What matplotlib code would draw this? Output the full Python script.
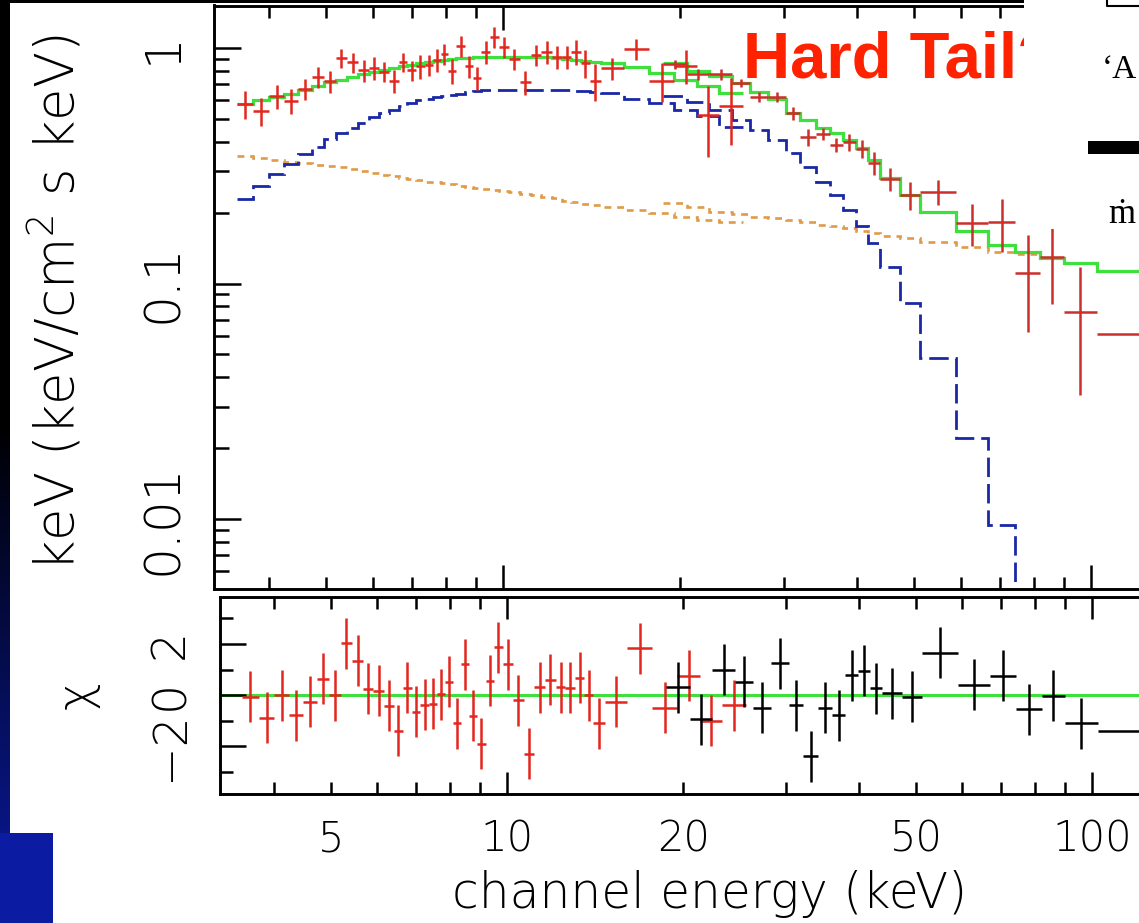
import matplotlib
matplotlib.use("Agg")
import matplotlib.pyplot as plt
import numpy as np
from matplotlib.ticker import LogLocator, FixedLocator, MultipleLocator, NullFormatter
from matplotlib.patches import Rectangle
from matplotlib.lines import Line2D
from matplotlib.transforms import blended_transform_factory as blend

# ---------------- data ----------------
# instrument A (red): bin edges in keV
a_edges = [3.523, 3.762, 4.005, 4.244, 4.479, 4.727, 4.970, 5.194, 5.434, 5.679,
           5.911, 6.154, 6.400, 6.643, 6.875, 7.108, 7.356, 7.591, 7.832, 8.074,
           8.331, 8.623, 8.898, 9.191, 9.512, 9.835, 10.23, 10.68, 11.14, 11.62,
           12.11, 12.59, 13.07, 13.55, 14.04, 14.69, 16.04, 17.73, 19.56, 21.37,
           23.29, 25.64]
a_flux = [0.578, 0.540, 0.626, 0.596, 0.670, 0.753, 0.724, 0.907, 0.872, 0.806,
          0.822, 0.791, 0.724, 0.872, 0.806, 0.839, 0.847, 0.889, 0.943, 0.799,
          1.020, 0.839, 0.746, 0.962, 1.114, 1.010, 0.898, 0.717, 0.934, 0.962,
          0.916, 0.916, 0.962, 0.864, 0.724, 0.822, 0.990, 0.724, 0.839, 0.519,
          0.567]
a_err = [0.078, 0.072, 0.073, 0.073, 0.070, 0.077, 0.077, 0.084, 0.085, 0.086,
         0.091, 0.077, 0.081, 0.081, 0.079, 0.098, 0.090, 0.100, 0.097, 0.096,
         0.104, 0.090, 0.084, 0.104, 0.114, 0.099, 0.092, 0.084, 0.096, 0.107,
         0.104, 0.100, 0.117, 0.118, 0.128, 0.089, 0.100, 0.137, 0.139, 0.173,
         0.180]
a_model = [0.5785, 0.6015, 0.6194, 0.6378, 0.6633, 0.6897, 0.7172, 0.7314, 0.7532, 0.7754,
           0.7908, 0.8064, 0.8224, 0.8386, 0.8468, 0.8636, 0.8720, 0.8806, 0.8890, 0.8980,
           0.9025, 0.9069, 0.9115, 0.9158, 0.9158, 0.9203, 0.9203, 0.9158, 0.9158, 0.9115,
           0.9069, 0.8980, 0.8890, 0.8806, 0.8720, 0.8636, 0.8304, 0.7831, 0.7314, 0.6897,
           0.6441]
a_comp = [0.2285, 0.2594, 0.2917, 0.3217, 0.3548, 0.3799, 0.4107, 0.4355, 0.4574, 0.4804,
          0.5093, 0.5297, 0.5453, 0.5672, 0.5842, 0.6015, 0.6071, 0.6194, 0.6255, 0.6318,
          0.6378, 0.6506, 0.6569, 0.6601, 0.6633, 0.6633, 0.6633, 0.6633, 0.6633, 0.6633,
          0.6633, 0.6601, 0.6569, 0.6537, 0.6506, 0.6441, 0.6071, 0.5842, 0.5453, 0.5143,
          0.4619]
a_pl = [0.3478, 0.3428, 0.3361, 0.3280, 0.3248, 0.3185, 0.3155, 0.3124, 0.3064, 0.3004,
        0.2946, 0.2888, 0.2847, 0.2805, 0.2778, 0.2738, 0.2711, 0.2685, 0.2659, 0.2633,
        0.2594, 0.2569, 0.2544, 0.2519, 0.2495, 0.2459, 0.2435, 0.2399, 0.2375, 0.2341,
        0.2296, 0.2251, 0.2219, 0.2186, 0.2155, 0.2113, 0.2052, 0.1993, 0.1916, 0.1861,
        0.1824]
a_chi = [-0.07, -0.9, 0.0, -0.8, -0.27, 0.63, 0.0, 2.03, 1.35, 0.24,
         0.17, -0.43, -1.4, 0.29, -0.65, -0.39, -0.34, 0.03, 0.52, -1.1,
         1.2, -0.82, -1.92, 0.55, 1.88, 1.2, -0.2, -2.3, 0.3, 0.59,
         0.3, 0.28, 0.67, 0.0, -1.1, -0.27, 1.84, -0.5, 0.75, -1.0,
         -0.4]

# instrument B (black residuals): bin edges in keV
b_edges = [18.73, 20.58, 22.43, 24.56, 26.35, 28.28, 30.29, 32.06, 34.07, 35.93,
           37.88, 39.78, 41.78, 43.71, 47.36, 51.12, 59.02, 66.89, 74.22, 82.03,
           89.80, 102.4, 145.7]
b_flux = [0.855, 0.775, 0.775, 0.710, 0.619, 0.619, 0.530, 0.419, 0.431, 0.387,
          0.399, 0.373, 0.325, 0.278, 0.238, 0.245, 0.181, 0.182, 0.111, 0.130,
          0.0757, 0.061]
b_err = [0.038, 0.042, 0.042, 0.028, 0.030, 0.030, 0.034, 0.035, 0.025, 0.026,
         0.033, 0.033, 0.035, 0.030, 0.032, 0.030, 0.037, 0.046, 0.049, 0.048,
         0.042, 0.040]
b_model = [0.8636, 0.7985, 0.7606, 0.7102, 0.6506, 0.6071, 0.5297, 0.4946, 0.4574, 0.4355,
           0.4067, 0.3761, 0.3345, 0.2805, 0.2375, 0.2010, 0.1671, 0.1457, 0.1361, 0.1283,
           0.1222, 0.1130]
b_comp = [0.6255, 0.5898, 0.5453, 0.4946, 0.4485, 0.4067, 0.3581, 0.3124, 0.2698, 0.2375,
          0.2052, 0.1754, 0.1486, 0.1175, 0.0826, 0.0483, 0.0221, 0.00943, 0.00278, 0.00064,
          0.000148, 0.000034]
b_pl = [0.2197, 0.2113, 0.2010, 0.1973, 0.1916, 0.1897, 0.1861, 0.1824, 0.1771, 0.1754,
        0.1720, 0.1671, 0.1638, 0.1591, 0.1560, 0.1500, 0.1429, 0.1361, 0.1335, 0.1283,
        0.1222, 0.1130]
b_chi = [0.3, -0.95, 1.0, 0.52, -0.5, 1.25, -0.4, -2.4, -0.5, -0.8,
         0.78, 0.95, 0.27, 0.07, -0.07, 1.65, 0.4, 0.75, -0.55, -0.03,
         -1.1, -1.4]

x_ticks = [5, 10, 20, 50, 100]
x_ticklabels = ["5", "10", "20", "50", "100"]
y_ticks = [0.01, 0.1, 1]
y_ticklabels = ["0.01", "0.1", "1"]
r_ticks = [-2, 0, 2]
r_ticklabels = ["\u22122", "0", "2"]

# ---------------- style ----------------
RED_A = "#e3261e"
RED_B = "#cc2e2a"
GREEN = "#3ee03e"
BLUE = "#1a28a6"
ORANGE = "#e09a48"
FONT = ["DejaVu Sans"]

plt.rcParams["font.family"] = FONT
plt.rcParams["axes.linewidth"] = 2.1

W, H = 1139, 923
fig = plt.figure(figsize=(W / 100, H / 100), dpi=100)
fig.patch.set_facecolor("white")


def fx(px):
    return px / W


def fy(py):
    return 1 - py / H


ax = fig.add_axes([fx(214), fy(589), fx(1180) - fx(214), fy(5.5) - fy(589)])
axr = fig.add_axes([fx(220), fy(794), fx(1180) - fx(220), fy(597) - fy(794)])

for a in (ax, axr):
    a.set_xscale("log")
    a.xaxis.set_major_locator(LogLocator(base=10, subs=(1.0,), numticks=50))
    a.xaxis.set_minor_locator(LogLocator(base=10, subs=np.arange(2, 10), numticks=50))
    a.xaxis.set_major_formatter(NullFormatter())
    a.xaxis.set_minor_formatter(NullFormatter())
    a.tick_params(which="both", direction="in", top=True, right=True,
                  labelleft=False, labelbottom=False, width=1.8)

ax.set_yscale("log")
ax.yaxis.set_major_locator(LogLocator(base=10, subs=(1.0,), numticks=50))
ax.yaxis.set_minor_locator(LogLocator(base=10, subs=np.arange(2, 10), numticks=50))
ax.yaxis.set_major_formatter(NullFormatter())
ax.yaxis.set_minor_formatter(NullFormatter())
ax.set_xlim(3.225, 141.7)
ax.set_ylim(0.005044, 1.5153)
ax.tick_params(axis="x", which="major", length=17)
ax.tick_params(axis="x", which="minor", length=8.6)
ax.tick_params(axis="y", which="major", length=19.4)
ax.tick_params(axis="y", which="minor", length=10.5)

axr.set_xlim(3.232, 141.4)
axr.set_ylim(-3.882, 3.843)
axr.yaxis.set_major_locator(FixedLocator(r_ticks))
axr.yaxis.set_minor_locator(MultipleLocator(1))
axr.yaxis.set_major_formatter(NullFormatter())
axr.tick_params(axis="x", which="major", length=15.8)
axr.tick_params(axis="x", which="minor", length=8.6)
axr.tick_params(axis="y", which="major", length=18.7)
axr.tick_params(axis="y", which="minor", length=9.4)

# ---------------- main panel ----------------
ae = np.array(a_edges)
a_lo, a_hi = ae[:-1], ae[1:]
a_c = np.sqrt(a_lo * a_hi)
be = np.array(b_edges)
b_lo, b_hi = be[:-1], be[1:]
b_c = np.sqrt(b_lo * b_hi)

for edges, pl, comp, model in ((ae, a_pl, a_comp, a_model), (be, b_pl, b_comp, b_model)):
    ax.stairs(pl, edges, baseline=None, color=ORANGE, lw=1.9, ls=(0, (2.6, 2.2)), zorder=2)
    ax.stairs(comp, edges, baseline=None, color=BLUE, lw=2.0, ls=(0, (7, 2.5)), zorder=2)
    ax.stairs(model, edges, baseline=None, color=GREEN, lw=2.3, zorder=3)

ax.errorbar(a_c, a_flux, xerr=[a_c - a_lo, a_hi - a_c], yerr=a_err, fmt="none",
            ecolor=RED_A, elinewidth=1.8, capsize=0, zorder=4)
ax.errorbar(b_c, b_flux, xerr=[b_c - b_lo, b_hi - b_c], yerr=b_err, fmt="none",
            ecolor=RED_B, elinewidth=1.8, capsize=0, zorder=4)

# ---------------- residual panel ----------------
axr.axhline(0, color=GREEN, lw=2.2, zorder=1)
axr.errorbar(a_c, a_chi, xerr=[a_c - a_lo, a_hi - a_c], yerr=1, fmt="none",
             ecolor=RED_A, elinewidth=1.8, capsize=0, zorder=3)
axr.errorbar(b_c, b_chi, xerr=[b_c - b_lo, b_hi - b_c], yerr=1, fmt="none",
             ecolor="black", elinewidth=1.8, capsize=0, zorder=3)

# ---------------- tick labels & axis labels ----------------
tf_main = blend(fig.transFigure, ax.transData)
for v, s in zip(y_ticks, y_ticklabels):
    fig.text(fx(163), v, s, transform=tf_main, rotation=90, ha="center", va="center",
             fontsize=36, fontweight="light")
tf_res = blend(fig.transFigure, axr.transData)
for v, s in zip(r_ticks, r_ticklabels):
    fig.text(fx(170), v, s, transform=tf_res, rotation=90, ha="center", va="center",
             fontsize=34, fontweight="light")
tf_x = blend(axr.transData, fig.transFigure)
for v, s in zip(x_ticks, x_ticklabels):
    fig.text(v, fy(852), s, transform=tf_x, ha="center", va="baseline",
             fontsize=30, fontweight="light")

fig.text(fx(710), fy(908), "channel energy (keV)", ha="center", va="baseline",
         fontsize=35, fontweight="light")
fig.text(fx(57), fy(303), r"keV (keV/cm$^{\mathregular{2}}$ s keV)", rotation=90,
         ha="center", va="center", fontsize=38, fontweight="light")
fig.text(fx(78), fy(695), "\u03c7", rotation=90, ha="center", va="center",
         fontsize=34, fontweight="light")

fig.text(fx(743), fy(77), "Hard Tail?", color="#ff2200", fontsize=47,
         fontweight="bold", family=["Liberation Sans", "DejaVu Sans"],
         ha="left", va="baseline", zorder=15)

# ---------------- slide decorations ----------------
fig.add_artist(Rectangle((fx(1024), fy(229)), fx(1139) - fx(1024), fy(0) - fy(229),
                         transform=fig.transFigure, facecolor="white",
                         edgecolor="none", zorder=20))
fig.add_artist(Rectangle((fx(1088), fy(154)), fx(1139) - fx(1088), fy(141) - fy(154),
                         transform=fig.transFigure, facecolor="black",
                         edgecolor="none", zorder=25))
fig.add_artist(Line2D([fx(1107), fx(1107), fx(1139)], [fy(0), fy(6), fy(6)],
                      transform=fig.transFigure, color="black", lw=1.5, zorder=25))
fig.text(fx(1102), fy(78), "\u2018A", family=["Liberation Serif", "DejaVu Serif"],
         fontsize=24, ha="left", va="baseline", zorder=26)
fig.text(fx(1108), fy(223), "\u1e41", family=["Liberation Serif", "DejaVu Serif"],
         fontsize=25, ha="left", va="baseline", zorder=26)

# top black strip
fig.add_artist(Rectangle((0, fy(3)), fx(1024), fy(0) - fy(3), transform=fig.transFigure,
                         facecolor="black", edgecolor="none", zorder=19))

# left gradient bar
axbar = fig.add_axes([0, 0, fx(10), 1], zorder=30)
rows = np.arange(H)
t = np.clip((rows - 420) / (H - 420), 0, 1)
c_bot = np.array([0x0a, 0x1a, 0xa0]) / 255.0
img = t[:, None] * c_bot[None, :]
axbar.imshow(img[:, None, :], aspect="auto", extent=[0, 1, 0, 1], origin="upper")
axbar.axis("off")

# blue box bottom-left
fig.add_artist(Rectangle((0, 0), fx(53), fy(833), transform=fig.transFigure,
                         facecolor="#0b1ba2", edgecolor="none", zorder=31))

fig.savefig("out.png", dpi=100)
